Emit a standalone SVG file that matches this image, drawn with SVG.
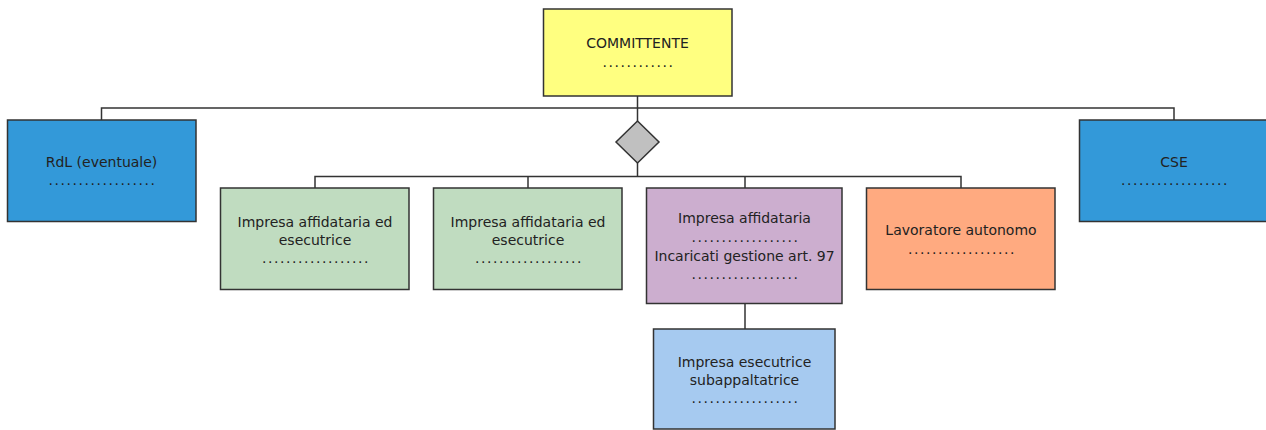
<svg xmlns="http://www.w3.org/2000/svg" width="1266" height="430" viewBox="0 0 1266 430">
<style>
.box{stroke:#333;stroke-width:1.5}
.t{font-family:"DejaVu Sans",Verdana,sans-serif;font-size:14px;fill:#222;text-anchor:middle}
.d{font-family:"DejaVu Sans",Verdana,sans-serif;font-size:14px;fill:#222;text-anchor:middle;letter-spacing:1.55px}
.c{fill:none;stroke:#333;stroke-width:1.5}
</style>
<rect width="1266" height="430" fill="#fff"/>
<g id="connectors">
<polyline class="c" points="101.5,120 101.5,108 1174,108 1174,120"/>
<line class="c" x1="637.5" y1="96" x2="637.5" y2="121"/>
<line class="c" x1="637.5" y1="163" x2="637.5" y2="176.5"/>
<polyline class="c" points="315,188 315,176.5 961,176.5 961,188"/>
<line class="c" x1="528" y1="176.5" x2="528" y2="188"/>
<line class="c" x1="745" y1="176.5" x2="745" y2="188"/>
<line class="c" x1="745" y1="304" x2="745" y2="329"/>
</g>
<g id="committente">
<rect class="box" x="543.5" y="9" width="188.5" height="87" fill="#FFFF80"/>
<text class="t" x="637.5" y="48">COMMITTENTE</text>
<text class="d" x="638.5" y="67">............</text>
</g>
<g id="diamond">
<polygon class="box" points="637.5,121 659,142 637.5,163 616,142" fill="#C0C0C0"/>
</g>
<g id="rdl">
<rect class="box" x="7.5" y="120" width="188.5" height="101.5" fill="#3399D9"/>
<text class="t" x="101.5" y="167">RdL (eventuale)</text>
<text class="d" x="102.5" y="185">..................</text>
</g>
<g id="cse">
<rect class="box" x="1079.5" y="120" width="190" height="101.5" fill="#3399D9"/>
<text class="t" x="1174" y="167">CSE</text>
<text class="d" x="1175" y="185">..................</text>
</g>
<g id="impresa1">
<rect class="box" x="220.5" y="188" width="188.5" height="101.5" fill="#C0DCC0"/>
<text class="t" x="315" y="227">Impresa affidataria ed</text>
<text class="t" x="315" y="245">esecutrice</text>
<text class="d" x="316" y="263">..................</text>
</g>
<g id="impresa2">
<rect class="box" x="433.5" y="188" width="188.5" height="101.5" fill="#C0DCC0"/>
<text class="t" x="528" y="227">Impresa affidataria ed</text>
<text class="t" x="528" y="245">esecutrice</text>
<text class="d" x="529" y="263">..................</text>
</g>
<g id="impresa-affidataria">
<rect class="box" x="646.5" y="188" width="195.5" height="115.5" fill="#CCAECF"/>
<text class="t" x="744.5" y="223">Impresa affidataria</text>
<text class="d" x="745.5" y="242">..................</text>
<text class="t" x="744.5" y="261">Incaricati gestione art. 97</text>
<text class="d" x="745.5" y="279">..................</text>
</g>
<g id="lavoratore">
<rect class="box" x="866.5" y="188" width="188.5" height="101.5" fill="#FFAA80"/>
<text class="t" x="961" y="235">Lavoratore autonomo</text>
<text class="d" x="962" y="254">..................</text>
</g>
<g id="subappaltatrice">
<rect class="box" x="653.5" y="329" width="181.5" height="100" fill="#A6CAF0"/>
<text class="t" x="744.5" y="367">Impresa esecutrice</text>
<text class="t" x="744.5" y="385">subappaltatrice</text>
<text class="d" x="745.5" y="403">..................</text>
</g>
</svg>
